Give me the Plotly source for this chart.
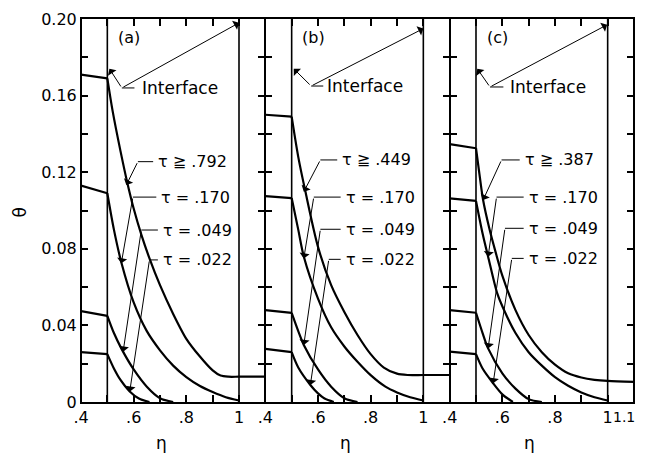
import plotly.graph_objects as go

# ---------------- data ----------------
panel_tags = ["(a)", "(b)", "(c)"]
steady_labels = ["τ ≧ .792", "τ ≧ .449", "τ ≧ .387"]
other_labels = ["τ = .170", "τ = .049", "τ = .022"]

x_tickvals = [0.4, 0.5, 0.6, 0.7, 0.8, 0.9, 1.0, 1.1]
x_ticktext = [".4", "", ".6", "", ".8", "", "1", ""]
last_tick_label = "1.1"
y_tickvals = [0, 0.02, 0.04, 0.06, 0.08, 0.10, 0.12, 0.14, 0.16, 0.18, 0.20]
y_ticktext = ["0", "", "0.04", "", "0.08", "", "0.12", "", "0.16", "", "0.20"]

# panel (a)
eta_a_s = [0.4, 0.5, 0.52, 0.55, 0.575, 0.6, 0.63, 0.66, 0.7, 0.75, 0.8, 0.85, 0.9, 0.93, 0.96, 1.0, 1.1]
th_a_s = [0.171, 0.169, 0.152, 0.131, 0.115, 0.101, 0.087, 0.075, 0.061, 0.046, 0.033, 0.024, 0.0165, 0.0138, 0.0132, 0.0132, 0.0132]
eta_a_170 = [0.4, 0.5, 0.525, 0.553, 0.6, 0.65, 0.7, 0.75, 0.8, 0.85, 0.9, 0.95, 1.0]
th_a_170 = [0.113, 0.109, 0.090, 0.073, 0.052, 0.037, 0.027, 0.019, 0.013, 0.0085, 0.0052, 0.0025, 0.0008]
eta_a_049 = [0.4, 0.5, 0.525, 0.553, 0.6, 0.65, 0.7, 0.75]
th_a_049 = [0.0475, 0.045, 0.036, 0.028, 0.017, 0.008, 0.002, 0.0]
eta_a_022 = [0.4, 0.5, 0.525, 0.55, 0.585, 0.62, 0.66]
th_a_022 = [0.026, 0.025, 0.0175, 0.0115, 0.0055, 0.0018, 0.0]

# panel (b)
eta_b_s = [0.4, 0.5, 0.525, 0.552, 0.6, 0.65, 0.7, 0.75, 0.8, 0.85, 0.9, 0.94, 1.0, 1.1]
th_b_s = [0.150, 0.149, 0.128, 0.110, 0.081, 0.061, 0.047, 0.035, 0.025, 0.018, 0.0148, 0.0141, 0.0141, 0.0141]
eta_b_170 = [0.4, 0.5, 0.525, 0.546, 0.6, 0.65, 0.7, 0.75, 0.8, 0.856, 0.9, 0.95, 1.0]
th_b_170 = [0.1075, 0.1065, 0.090, 0.076, 0.054, 0.039, 0.029, 0.021, 0.014, 0.008, 0.005, 0.0025, 0.0008]
eta_b_049 = [0.4, 0.5, 0.525, 0.546, 0.6, 0.65, 0.7, 0.75]
th_b_049 = [0.048, 0.0465, 0.037, 0.0298, 0.017, 0.008, 0.002, 0.0]
eta_b_022 = [0.4, 0.5, 0.525, 0.571, 0.6, 0.625, 0.66]
th_b_022 = [0.0277, 0.026, 0.018, 0.0089, 0.0045, 0.0018, 0.0]

# panel (c)
eta_c_s = [0.4, 0.5, 0.515, 0.527, 0.55, 0.575, 0.6, 0.65, 0.7, 0.75, 0.8, 0.85, 0.9, 0.95, 1.0, 1.1]
th_c_s = [0.1347, 0.1325, 0.117, 0.1055, 0.091, 0.078, 0.066, 0.048, 0.035, 0.026, 0.0195, 0.015, 0.0128, 0.0116, 0.011, 0.0105]
eta_c_170 = [0.4, 0.5, 0.525, 0.546, 0.58, 0.6, 0.65, 0.7, 0.75, 0.8, 0.85, 0.9, 0.95, 1.0]
th_c_170 = [0.1063, 0.105, 0.088, 0.0759, 0.057, 0.050, 0.036, 0.026, 0.019, 0.013, 0.0085, 0.005, 0.0025, 0.0008]
eta_c_049 = [0.4, 0.5, 0.525, 0.546, 0.6, 0.65, 0.7, 0.75]
th_c_049 = [0.048, 0.0466, 0.036, 0.028, 0.015, 0.007, 0.0015, 0.0]
eta_c_022 = [0.4, 0.5, 0.525, 0.565, 0.6, 0.64]
th_c_022 = [0.0263, 0.025, 0.0175, 0.0098, 0.004, 0.0]

interface_eta = 0.5
outer_eta = 1.0

curves = [
    [(eta_a_s, th_a_s), (eta_a_170, th_a_170), (eta_a_049, th_a_049), (eta_a_022, th_a_022)],
    [(eta_b_s, th_b_s), (eta_b_170, th_b_170), (eta_b_049, th_b_049), (eta_b_022, th_b_022)],
    [(eta_c_s, th_c_s), (eta_c_170, th_c_170), (eta_c_049, th_c_049), (eta_c_022, th_c_022)],
]

# ---------------- label layout (positions in data units) ----------------
tau_text_x = [[0.686, 0.698, 0.704, 0.704], [0.685, 0.698, 0.698, 0.698], [0.678, 0.693, 0.693, 0.693]]
tau_text_y = [[0.1255, 0.107, 0.0898, 0.0742], [0.1264, 0.107, 0.0902, 0.0745], [0.1264, 0.107, 0.0907, 0.075]]
tau_bend_x = [[0.616, 0.597, 0.629, 0.660], [0.609, 0.584, 0.609, 0.641], [0.597, 0.578, 0.610, 0.636]]
tau_tip = [
    [(0.572, 0.1133), (0.553, 0.0724), (0.560, 0.0263), (0.585, 0.0054)],
    [(0.546, 0.1098), (0.546, 0.075), (0.546, 0.0298), (0.571, 0.0089)],
    [(0.527, 0.1055), (0.546, 0.0759), (0.546, 0.028), (0.565, 0.0098)],
]
intf_bend = [(0.555, 0.164), (0.574, 0.165), (0.553, 0.1645)]
intf_dash_end = [0.603, 0.62, 0.604]
intf_text_x = [0.624, 0.628, 0.622]
intf_tip1 = [(0.508, 0.174), (0.508, 0.174), (0.505, 0.174)]
intf_tip2 = [(1.0, 0.198), (1.0, 0.195), (0.998, 0.197)]

FONT = "DejaVu Sans"
fig = go.Figure()
shapes = []
annotations = []

for p in range(3):
    xr = "x" if p == 0 else f"x{p+1}"
    yr = "y" if p == 0 else f"y{p+1}"
    for eta, th in curves[p]:
        k = eta.index(interface_eta)
        fig.add_trace(go.Scatter(x=eta[:k + 1], y=th[:k + 1], mode="lines", xaxis=xr, yaxis=yr,
                                 line=dict(color="black", width=2.2), showlegend=False, hoverinfo="skip"))
        fig.add_trace(go.Scatter(x=eta[k:], y=th[k:], mode="lines", xaxis=xr, yaxis=yr,
                                 line=dict(color="black", width=2.2, shape="spline", smoothing=0.8),
                                 showlegend=False, hoverinfo="skip"))
    for xv in (interface_eta, outer_eta):
        shapes.append(dict(type="line", xref=xr, yref=yr, x0=xv, x1=xv, y0=0, y1=0.2,
                           line=dict(color="black", width=1.6)))
    # panel tag
    annotations.append(dict(xref=xr, yref=yr, x=0.583, y=0.1905, text=panel_tags[p], showarrow=False,
                            xanchor="center", yanchor="middle",
                            font=dict(family=FONT, size=16, color="black")))
    # interface label
    bx, by = intf_bend[p]
    shapes.append(dict(type="line", xref=xr, yref=yr, x0=bx, x1=intf_dash_end[p], y0=by, y1=by,
                       line=dict(color="black", width=1)))
    annotations.append(dict(xref=xr, yref=yr, x=intf_text_x[p], y=by, text="Interface", showarrow=False,
                            xanchor="left", yanchor="middle", font=dict(family=FONT, size=17, color="black")))
    for tx, ty in (intf_tip1[p], intf_tip2[p]):
        annotations.append(dict(xref=xr, yref=yr, x=tx, y=ty, axref=xr, ayref=yr, ax=bx, ay=by, text="",
                                showarrow=True, arrowhead=1, arrowsize=1.7, arrowwidth=1, arrowcolor="black",
                                standoff=0, startstandoff=0))
    # tau labels
    labels = [steady_labels[p]] + other_labels
    for i in range(4):
        tx0 = tau_text_x[p][i]
        ty0 = tau_text_y[p][i]
        bxx = tau_bend_x[p][i]
        shapes.append(dict(type="line", xref=xr, yref=yr, x0=bxx, x1=tx0 - 0.012, y0=ty0, y1=ty0,
                           line=dict(color="black", width=1)))
        annotations.append(dict(xref=xr, yref=yr, x=tx0, y=ty0, text=labels[i], showarrow=False,
                                xanchor="left", yanchor="middle", font=dict(family=FONT, size=16, color="black")))
        px, py = tau_tip[p][i]
        annotations.append(dict(xref=xr, yref=yr, x=px, y=py, axref=xr, ayref=yr, ax=bxx, ay=ty0, text="",
                                showarrow=True, arrowhead=1, arrowsize=1.7, arrowwidth=1, arrowcolor="black",
                                standoff=0, startstandoff=0))
    # eta label
    annotations.append(dict(xref=xr, yref="paper", x=0.705, y=-0.106, text="η", showarrow=False,
                            xanchor="center", yanchor="middle",
                            font=dict(family=FONT, size=17, color="black")))

# last tick label of panel (c), kept inside the page
annotations.append(dict(xref="paper", yref="paper", x=1.0 + 3 / 553, y=-0.04, text=last_tick_label,
                        showarrow=False, xanchor="right", yanchor="middle",
                        font=dict(family=FONT, size=14, color="black")))

# outer panel borders (thicker)
shapes.append(dict(type="line", xref="x", yref="y", x0=0.4, x1=0.4, y0=0, y1=0.2,
                   line=dict(color="black", width=2)))
shapes.append(dict(type="line", xref="x3", yref="y3", x0=1.1, x1=1.1, y0=0, y1=0.2,
                   line=dict(color="black", width=2)))

annotations.append(dict(xref="paper", yref="paper", x=-0.11, y=0.495, text="θ", textangle=-90,
                        xanchor="center", yanchor="middle",
                        showarrow=False, font=dict(family=FONT, size=17, color="black")))

axis_common = dict(showline=True, linecolor="black", mirror="ticks", ticks="inside",
                   ticklen=7, tickwidth=1.5, tickcolor="black", showgrid=False, zeroline=False,
                   automargin=False, tickfont=dict(family=FONT, size=16, color="black"))

layout = dict(
    width=629, height=449,
    margin=dict(l=73, r=3, t=11, b=55, autoexpand=False),
    paper_bgcolor="white", plot_bgcolor="white",
    shapes=shapes, annotations=annotations, showlegend=False,
)
doms = [[0, 1 / 3], [1 / 3, 2 / 3], [2 / 3, 1]]
for p in range(3):
    sx = "xaxis" if p == 0 else f"xaxis{p+1}"
    sy = "yaxis" if p == 0 else f"yaxis{p+1}"
    layout[sx] = dict(axis_common, linewidth=2, domain=doms[p], range=[0.4, 1.1], tickmode="array",
                      tickvals=x_tickvals, ticktext=x_ticktext,
                      anchor="y" if p == 0 else f"y{p+1}")
    layout[sy] = dict(axis_common, linewidth=1.1, domain=[0, 1], range=[0, 0.2], tickmode="array",
                      tickvals=y_tickvals, ticktext=y_ticktext, showticklabels=(p == 0),
                      anchor="x" if p == 0 else f"x{p+1}")

fig.update_layout(**layout)
fig.write_html("out.html")
